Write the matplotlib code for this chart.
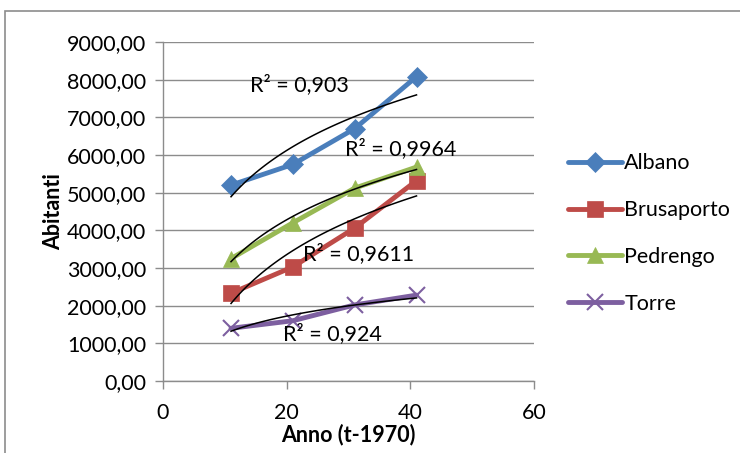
import numpy as np
import matplotlib.pyplot as plt
from matplotlib.patches import Rectangle

anni = [11, 21, 31, 41]
albano = [5200, 5750, 6700, 8080]
brusaporto = [2330, 3030, 4060, 5320]
pedrengo = [3250, 4200, 5120, 5680]
torre = [1400, 1600, 2020, 2280]

nomi = ["Albano", "Brusaporto", "Pedrengo", "Torre"]
colori = ["#4a7ebb", "#be4b48", "#98b954", "#7d5fa0"]
marker = ["D", "s", "^", "x"]
r2_testi = ["R² = 0,903", "R² = 0,9611", "R² = 0,9964", "R² = 0,924"]
r2_pos = [(14.0, 7880), (22.6, 3370), (29.4, 6160), (19.4, 1270)]

plt.rcParams['font.family'] = ['Lato', 'DejaVu Sans']

fig = plt.figure(figsize=(7.4, 4.53), dpi=100)
# cornice grigia del grafico
fig.patches.append(Rectangle((5/740, -0.1), 1.0, 1 - 11/453 + 0.1, transform=fig.transFigure,
                             fill=False, edgecolor='#8c8c8c', linewidth=1.2))
ax = fig.add_axes([163/740, 72/453, 371/740, 339/453])

serie = [albano, brusaporto, pedrengo, torre]
x = np.array(anni, dtype=float)
for i, valori in enumerate(serie):
    if marker[i] == "D":
        ms, mew = 10, 0.5
    elif marker[i] == "x":
        ms, mew = 12, 1.5
    else:
        ms, mew = 11, 0.5
    ax.plot(anni, valori, color=colori[i], linewidth=3.5, marker=marker[i],
            markersize=ms, markeredgewidth=mew, markeredgecolor=colori[i],
            label=nomi[i], zorder=3, solid_capstyle='round')

# linee di tendenza logaritmiche
for i, valori in enumerate(serie):
    a, b = np.polyfit(np.log(x), np.array(valori, dtype=float), 1)
    xx = np.linspace(x[0], x[-1], 100)
    ax.plot(xx, a * np.log(xx) + b, color='black', linewidth=1.1, zorder=4)

for testo, (tx, ty) in zip(r2_testi, r2_pos):
    ax.text(tx, ty, testo, fontsize=15.5, va='center', ha='left', zorder=5)

ax.set_xlim(0, 60)
ax.set_ylim(0, 9000)
ax.set_xticks([0, 20, 40, 60])
ax.set_yticks(np.arange(0, 9001, 1000))
ax.set_yticklabels([f"{v:.2f}".replace('.', ',') for v in np.arange(0, 9001, 1000)])
ax.grid(axis='y', color='#8c8c8c', linewidth=1)
ax.set_axisbelow(True)
for s in ['top', 'right']:
    ax.spines[s].set_visible(False)
for s in ['left', 'bottom']:
    ax.spines[s].set_color('#8c8c8c')
    ax.spines[s].set_linewidth(1)
ax.tick_params(axis='both', colors='#8c8c8c', labelcolor='black', labelsize=15.5, length=6, width=1)
ax.tick_params(axis='x', pad=10)
ax.tick_params(axis='y', pad=6)

ax.set_xlabel("Anno (t-1970)", fontsize=15.5, fontweight='bold', labelpad=0)
ax.set_ylabel("Abitanti", fontsize=15.5, fontweight='bold', labelpad=2)

ax.legend(loc='center left', bbox_to_anchor=(1.0, 0.435), frameon=False, fontsize=15.5,
          handlelength=2.5, labelspacing=1.25, handletextpad=0.1, borderaxespad=1.2)

fig.savefig("out.png", dpi=100)
